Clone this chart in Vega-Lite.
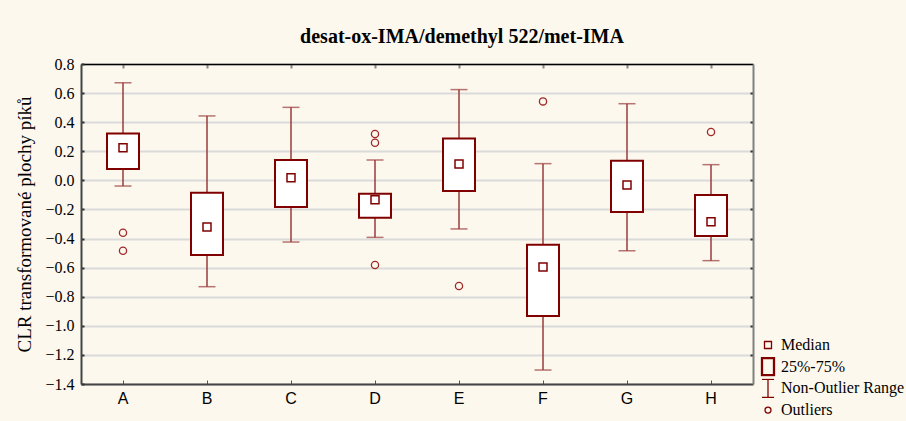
{
  "$schema": "https://vega.github.io/schema/vega-lite/v6.json",
  "width": 672,
  "height": 320,
  "autosize": {"type": "none"},
  "padding": {"left": 81, "top": 64, "right": 153, "bottom": 37},
  "background": "#fcf8ee",
  "title": {
    "text": "desat-ox-IMA/demethyl 522/met-IMA",
    "font": "Liberation Serif",
    "fontSize": 20,
    "fontWeight": "bold",
    "color": "#000000",
    "anchor": "middle",
    "dx": 45,
    "offset": 9
  },
  "config": {
    "view": {"fill": "#ffffff", "stroke": null},
    "axis": {"labelColor": "#000000", "titleColor": "#000000"}
  },
  "resolve": {"axis": {"x": "independent", "y": "independent"}},
  "data": {
    "values": [
      {"cat": "A", "lo": -0.039, "q1": 0.078, "med": 0.225, "q3": 0.323, "hi": 0.671},
      {"cat": "B", "lo": -0.731, "q1": -0.513, "med": -0.321, "q3": -0.085, "hi": 0.443},
      {"cat": "C", "lo": -0.424, "q1": -0.183, "med": 0.018, "q3": 0.14, "hi": 0.502},
      {"cat": "D", "lo": -0.392, "q1": -0.257, "med": -0.133, "q3": -0.092, "hi": 0.14},
      {"cat": "E", "lo": -0.334, "q1": -0.073, "med": 0.112, "q3": 0.287, "hi": 0.624},
      {"cat": "F", "lo": -1.304, "q1": -0.933, "med": -0.596, "q3": -0.442, "hi": 0.115},
      {"cat": "G", "lo": -0.484, "q1": -0.218, "med": -0.032, "q3": 0.135, "hi": 0.527},
      {"cat": "H", "lo": -0.552, "q1": -0.383, "med": -0.284, "q3": -0.101, "hi": 0.108}
    ]
  },
  "encoding": {
    "x": {
      "field": "cat",
      "type": "nominal",
      "scale": {"domain": ["A", "B", "C", "D", "E", "F", "G", "H"], "paddingInner": 0, "paddingOuter": 0},
      "axis": null
    }
  },
  "layer": [
    {
      "mark": {"type": "rule", "color": "#9a3c3c", "strokeWidth": 1.5},
      "encoding": {
        "x": {
          "field": "cat",
          "type": "nominal",
          "scale": {"domain": ["A", "B", "C", "D", "E", "F", "G", "H"], "paddingInner": 0, "paddingOuter": 0},
          "axis": {
            "orient": "bottom",
            "title": null,
            "labelAngle": 0,
            "labelFont": "Liberation Sans",
            "labelFontSize": 16,
            "labelPadding": 10,
            "tickSize": -4,
            "tickColor": "#555555",
            "tickWidth": 1,
            "domainColor": "#444444",
            "domainWidth": 2,
            "grid": false
          }
        },
        "y": {
          "field": "lo",
          "type": "quantitative",
          "scale": {"domain": [-1.4, 0.8], "nice": false, "zero": false},
          "axis": {
            "orient": "left",
            "title": "CLR transformované plochy píků",
            "titleFont": "Liberation Serif",
            "titleFontSize": 19,
            "titleFontWeight": "normal",
            "titlePadding": 10,
            "values": [-1.4, -1.2, -1.0, -0.8, -0.6, -0.4, -0.2, 0.0, 0.2, 0.4, 0.6, 0.8],
            "format": ".1f",
            "labelFont": "Liberation Serif",
            "labelFontSize": 16,
            "labelPadding": 10,
            "tickSize": -3,
            "tickColor": "#333333",
            "tickWidth": 2,
            "domainColor": "#444444",
            "domainWidth": 2,
            "grid": true,
            "gridColor": "#dadada",
            "gridWidth": 2
          }
        },
        "y2": {"field": "hi"}
      }
    },
    {
      "mark": {"type": "tick", "color": "#9a3c3c", "thickness": 1.5, "size": 17},
      "encoding": {"y": {"field": "lo", "type": "quantitative", "axis": null}}
    },
    {
      "mark": {"type": "tick", "color": "#9a3c3c", "thickness": 1.5, "size": 17},
      "encoding": {"y": {"field": "hi", "type": "quantitative", "axis": null}}
    },
    {
      "mark": {"type": "bar", "width": 32, "fill": "#ffffff", "stroke": "#800000", "strokeWidth": 2},
      "encoding": {
        "y": {"field": "q1", "type": "quantitative", "axis": null},
        "y2": {"field": "q3"}
      }
    },
    {
      "mark": {"type": "point", "shape": "square", "size": 64, "filled": false, "color": "#800000", "strokeWidth": 1.5, "opacity": 1},
      "encoding": {"y": {"field": "med", "type": "quantitative", "axis": null}}
    },
    {
      "data": {
        "values": [
          {"cat": "A", "v": -0.36},
          {"cat": "A", "v": -0.484},
          {"cat": "D", "v": 0.319},
          {"cat": "D", "v": 0.259},
          {"cat": "D", "v": -0.582},
          {"cat": "E", "v": -0.726},
          {"cat": "F", "v": 0.543},
          {"cat": "H", "v": 0.333}
        ]
      },
      "mark": {"type": "point", "shape": "circle", "size": 52, "filled": false, "color": "#a02828", "strokeWidth": 1.3, "opacity": 1},
      "encoding": {
        "x": {
          "field": "cat",
          "type": "nominal",
          "scale": {"domain": ["A", "B", "C", "D", "E", "F", "G", "H"], "paddingInner": 0, "paddingOuter": 0},
          "axis": {
            "orient": "top",
            "title": null,
            "labels": false,
            "tickSize": -4,
            "tickColor": "#888888",
            "tickWidth": 2,
            "domainColor": "#000000",
            "domainWidth": 1.5,
            "grid": false
          }
        },
        "y": {
          "field": "v",
          "type": "quantitative",
          "axis": {
            "orient": "right",
            "title": null,
            "labels": false,
            "values": [-1.2, -1.0, -0.8, -0.6, -0.4, -0.2, 0.0, 0.2, 0.4, 0.6],
            "tickSize": -3,
            "tickColor": "#333333",
            "tickWidth": 2,
            "domainColor": "#808080",
            "domainWidth": 2,
            "grid": false
          }
        }
      }
    },
    {
      "data": {
        "values": [
          {"item": "Median"},
          {"item": "25%-75%"},
          {"item": "Non-Outlier Range"},
          {"item": "Outliers"}
        ]
      },
      "mark": {"type": "point", "filled": false, "color": "#800000", "opacity": 0},
      "encoding": {
        "x": null,
        "shape": {
          "field": "item",
          "type": "nominal",
          "scale": {
            "domain": ["Median", "25%-75%", "Non-Outlier Range", "Outliers"],
            "range": [
              "M-0.35,-0.35H0.35V0.35H-0.35Z",
              "M-0.65,-0.9H0.65V0.9H-0.65Z M-0.55,-0.8H0.55V0.8H-0.55Z",
              "M-0.6,-0.9H0.6M0,-0.9V0.9M-0.6,0.9H0.6",
              "M0.3,0A0.3,0.3 0 1,1 -0.3,0A0.3,0.3 0 1,1 0.3,0Z"
            ]
          },
          "legend": {
            "title": null,
            "orient": "none",
            "legendX": 676,
            "legendY": 271,
            "symbolSize": 400,
            "symbolOpacity": 1,
            "symbolStrokeColor": "#800000",
            "symbolFillColor": "transparent",
            "symbolStrokeWidth": 1.3,
            "labelFont": "Liberation Serif",
            "labelFontSize": 16,
            "labelColor": "#000000",
            "labelOffset": 2,
            "clipHeight": 20,
            "rowPadding": 1.7,
            "padding": 0
          }
        }
      }
    }
  ]
}
